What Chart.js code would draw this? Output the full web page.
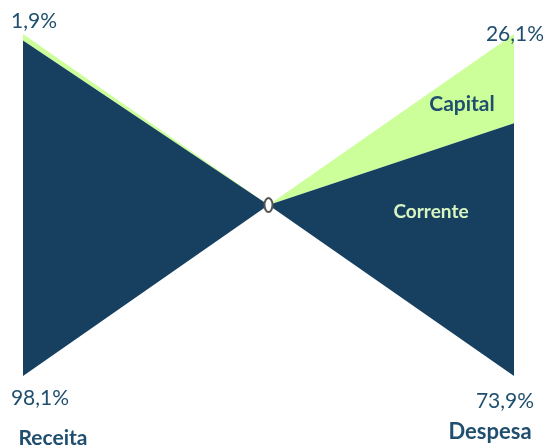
<!DOCTYPE html>
<html><head><meta charset="utf-8">
<script src="https://cdn.jsdelivr.net/npm/chart.js@4"></script>
<style>html,body{margin:0;padding:0;background:#fff;}#wrap{width:547px;height:448px;}</style>
</head><body><div id="wrap"><canvas id="c" width="547" height="448"></canvas></div>
<script>
const categories = ['Receita', 'Despesa'];
const seriesNames = ['Corrente', 'Capital'];
const corrente = [98.1, 73.9];
const capital = [1.9, 26.1];
const pctLabels = ['98,1%', '1,9%', '73,9%', '26,1%'];

const DARK = '#174060';
const GREEN = '#CCFF99';
const TXT = '#1F4E6E';

// x: 0 = Receita, 1 = centre, 2 = Despesa ; y centred at 0, total 100
const bottom = [{x:0,y:-50},{x:1,y:0},{x:2,y:-50}];
const divider = [{x:0,y:-50+corrente[0]},{x:1,y:0},{x:2,y:-50+corrente[1]}];
const top_ = [{x:0,y:-50+corrente[0]+capital[0]},{x:1,y:0},{x:2,y:-50+corrente[1]+capital[1]}];

const labelPlugin = {
  id: 'labels',
  afterDatasetsDraw(chart) {
    const ctx = chart.ctx, xs = chart.scales.x, ys = chart.scales.y;
    const xl = xs.getPixelForValue(0), xr = xs.getPixelForValue(2), xc = xs.getPixelForValue(1);
    const yTop = ys.getPixelForValue(50), yBot = ys.getPixelForValue(-50), yc = ys.getPixelForValue(0);
    ctx.save();
    ctx.textAlign = 'center'; ctx.textBaseline = 'middle';
    ctx.fillStyle = TXT;
    ctx.font = '21px Lato, "Open Sans", sans-serif';
    ctx.fillText(pctLabels[1], xl + 11, yTop - 13);
    ctx.fillText(pctLabels[0], xl + 17, yBot + 22);
    ctx.fillText(pctLabels[3], xr + 1, yTop);
    ctx.fillText(pctLabels[2], xr - 9, yBot + 25);
    ctx.font = 'bold 21px Lato, "Open Sans", sans-serif';
    ctx.fillText(categories[0], xl + 30, yBot + 62);
    ctx.font = 'bold 22px Lato, "Open Sans", sans-serif';
    ctx.fillText(categories[1], xr - 24, yBot + 56);
    ctx.font = 'bold 21px Lato, "Open Sans", sans-serif';
    ctx.fillText(seriesNames[1], xr - 52, ys.getPixelForValue(-50 + corrente[1] + capital[1] / 2) + 26);
    ctx.fillStyle = '#D8F5C0';
    ctx.font = 'bold 19px Lato, "Open Sans", sans-serif';
    ctx.fillText(seriesNames[0], xr - 83, yc + 7);
    // centre marker
    ctx.beginPath();
    ctx.ellipse(xc, yc, 4, 7, 0, 0, Math.PI * 2);
    ctx.fillStyle = '#fff'; ctx.fill();
    ctx.lineWidth = 2; ctx.strokeStyle = '#555'; ctx.stroke();
    ctx.restore();
  }
};

new Chart(document.getElementById('c'), {
  type: 'line',
  data: {
    datasets: [
      { label: 'base', data: bottom, borderWidth: 0, pointRadius: 0, fill: false },
      { label: seriesNames[0], data: divider, borderWidth: 0, pointRadius: 0, fill: '-1', backgroundColor: DARK },
      { label: seriesNames[1], data: top_, borderWidth: 0, pointRadius: 0, fill: '-1', backgroundColor: GREEN }
    ]
  },
  options: {
    responsive: false, animation: false,
    layout: { padding: { left: 23, right: 33, top: 34, bottom: 72 } },
    plugins: { legend: { display: false }, tooltip: { enabled: false } },
    scales: {
      x: { type: 'linear', min: 0, max: 2, display: false },
      y: { type: 'linear', min: -50, max: 50, display: false }
    },
    elements: { line: { tension: 0 } }
  },
  plugins: [labelPlugin]
});
</script>
</body></html>
